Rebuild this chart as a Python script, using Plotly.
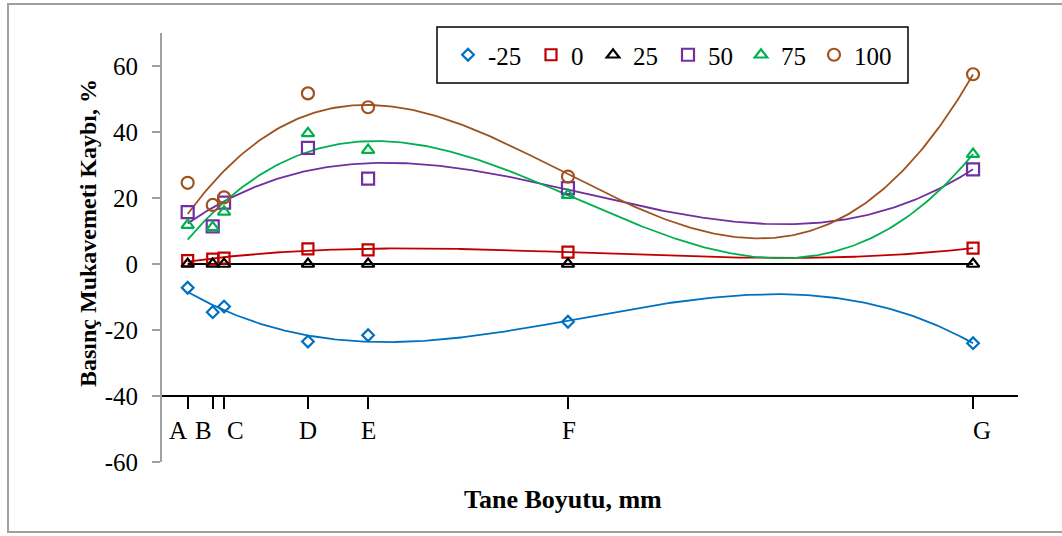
import numpy as np
import plotly.graph_objects as go

# ---- data ----
categories = ["A", "B", "C", "D", "E", "F", "G"]
x_pos = [1.2, 2.37, 2.9, 6.82, 9.63, 18.97, 37.9]
series_names = ["-25", "0", "25", "50", "75", "100"]
s_m25 = [-7.2, -14.6, -12.9, -23.5, -21.6, -17.5, -24.0]
s_0 = [1.0, 1.5, 1.8, 4.6, 4.3, 3.6, 4.8]
s_25 = [0, 0, 0, 0, 0, 0, 0]
s_50 = [15.7, 11.4, 18.6, 35.2, 25.9, 23.0, 28.7]
s_75 = [11.8, 11.1, 15.8, 39.6, 34.5, 20.9, 33.3]
s_100 = [24.6, 17.9, 20.2, 51.7, 47.5, 26.5, 57.5]
y_ticks = [-60, -40, -20, 0, 20, 40, 60]
y_tick_text = ["-60", "-40", "-20", "0", "20", "40", "60"]

# layout helpers (pixel positions / offsets, not data)
label_shift = [-10, -9, 11, 0, 0, 1, 9]
legend_marker_px = [469, 552, 614, 689, 762, 835]

series = [s_m25, s_0, s_25, s_50, s_75, s_100]
colors = ["#0070C0", "#C00000", "#000000", "#7030A0", "#00B050", "#A0521E"]
symbols = ["diamond-open", "square-open", "triangle-up-open", "square-open",
           "triangle-up-open", "circle-open"]
sizes = [9, 11, 11, 12, 11, 12]

FONT = "Liberation Serif, Times New Roman, serif"
YMIN, YMAX = -60, 70
XMIN, XMAX = 0, 40

L, R, T, B = 162, 44, 33, 74
W, H = 1062, 536
pw, ph = W - L - R, H - T - B

def px_x(p):
    return (p - L) / pw

def px_y(p):
    return (H - B - p) / ph

fig = go.Figure()
xs = np.array(x_pos)
xd = np.linspace(xs.min(), xs.max(), 300)
for name, ys, c in zip(series_names, series, colors):
    coef = np.polyfit(xs, np.array(ys, dtype=float), 3)
    fig.add_trace(go.Scatter(x=xd, y=np.polyval(coef, xd), mode="lines",
                             line=dict(color=c, width=1.8), showlegend=False,
                             hoverinfo="skip"))

legend_layouts = {}
for i, (name, ys, c, sym, sz) in enumerate(zip(series_names, series, colors,
                                               symbols, sizes)):
    lg = "legend" if i == 0 else f"legend{i + 1}"
    fig.add_trace(go.Scatter(x=x_pos, y=ys, mode="markers", name=name,
                             legend=lg,
                             marker=dict(symbol=sym, color=c, size=sz,
                                         line=dict(color=c, width=2.2))))
    legend_layouts[lg] = dict(x=px_x(legend_marker_px[i] - 21), y=px_y(55),
                              xanchor="left", yanchor="middle",
                              orientation="h", borderwidth=0,
                              bgcolor="rgba(0,0,0,0)", font=dict(size=25),
                              itemwidth=30)

fig.update_layout(
    width=W, height=H,
    margin=dict(l=L, r=R, t=T, b=B, pad=0),
    paper_bgcolor="white", plot_bgcolor="white",
    font=dict(family=FONT, size=25, color="black"),
    xaxis=dict(range=[XMIN, XMAX], tickmode="array", tickvals=x_pos,
               ticktext=[""] * len(x_pos), showgrid=False, zeroline=False,
               showline=True, linecolor="black", linewidth=2,
               ticks="outside", ticklen=12, tickwidth=1.5, tickcolor="black",
               anchor="free", position=(-40 - YMIN) / (YMAX - YMIN)),
    yaxis=dict(range=[YMIN, YMAX], tickvals=y_ticks, ticktext=y_tick_text,
               showgrid=False,
               zeroline=False, showline=True, linecolor="#A0A0A0", linewidth=2,
               ticks="outside", ticklen=8, tickwidth=1.5, tickcolor="#A0A0A0",
               tickfont=dict(size=25), ticklabelstandoff=9),
    showlegend=True,
    **legend_layouts,
)

# legend frame
fig.add_shape(type="rect", xref="paper", yref="paper",
              x0=px_x(437), x1=px_x(908), y0=px_y(83), y1=px_y(27),
              line=dict(color="black", width=1.5), fillcolor="white",
              layer="below")

for cat, xv, sh in zip(categories, x_pos, label_shift):
    fig.add_annotation(text=cat, x=xv, y=px_y(430), xref="x", yref="paper",
                       xshift=sh, showarrow=False, xanchor="center",
                       yanchor="middle", font=dict(size=25))

fig.add_annotation(text="<b>Basınç Mukavemeti Kaybı, %</b>", textangle=-90,
                   x=px_x(88), y=px_y(233), xref="paper", yref="paper",
                   xanchor="center", yanchor="middle",
                   showarrow=False, font=dict(size=24))
fig.add_annotation(text="<b>Tane Boyutu, mm</b>", x=px_x(563), y=px_y(500),
                   xref="paper", yref="paper", showarrow=False,
                   xanchor="center", yanchor="middle",
                   font=dict(size=26))
fig.add_shape(type="rect", xref="paper", yref="paper",
              x0=px_x(8), x1=px_x(1066), y0=px_y(532), y1=px_y(4),
              line=dict(color="#A0A0A0", width=2))

fig.write_html("out.html")
